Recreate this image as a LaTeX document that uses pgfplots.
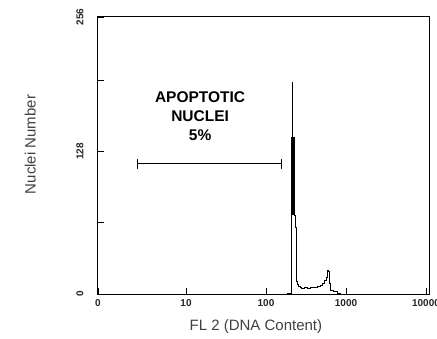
\documentclass[border=0pt]{standalone}
\usepackage{pgfplots}
\pgfplotsset{compat=1.18}
\usepackage{fontspec}
\setmainfont{Liberation Sans}
\begin{document}
\begin{tikzpicture}[x=1pt,y=1pt]
\path[use as bounding box] (0,0) rectangle (437,338);
\begin{axis}[
  at={(98pt,44pt)}, anchor=south west,
  scale only axis, width=331pt, height=277pt,
  xmode=log, xmin=0.794, xmax=10900,
  ymin=0, ymax=249,
  xtick={0.794,10,100,1000,10000},
  xticklabels={0,10,100,1000,10000},
  ytick={0,64,128,192,249}, yticklabels={0,,128,,256},
  xminorticks=false, yminorticks=false,
  xtick pos=bottom, ytick pos=left,
  tick align=inside, major tick length=6pt,
  tick style={black, line width=0.8pt},
  axis line style={line width=1pt},
  /pgf/number format/assume math mode=true,
  xticklabel style={font=\fontsize{10}{12}\selectfont\bfseries, text=black!85, anchor=center, yshift=-9pt},
  yticklabel style={font=\fontsize{10}{12}\selectfont\bfseries, text=black!85, xshift=-18pt, rotate=90, anchor=center},
  xlabel={FL 2 (DNA Content)},
  ylabel={Nuclei Number},
  every axis x label/.style={at={(axis description cs:0.477,-0.116)}, anchor=center, font=\fontsize{15}{17}\selectfont, text=black!75},
  every axis y label/.style={at={(axis description cs:-0.205,0.54)}, anchor=center, rotate=90, font=\fontsize{15}{17}\selectfont, text=black!75},
]
\addplot[const plot, black, line width=0.7pt] coordinates {
(180,0) (183,1) (205,2) (207,71) (209,70) (210,141) (210.5,72) (211,141) (211.5,72) (212,141) (212.5,190)
(213,72) (213.5,141) (214,72) (214.5,141) (215,72) (215.5,141) (216,72) (216.5,141)
(217,72) (217.5,141) (218,72) (218.5,141) (219,72) (219.5,141) (220,72) (220.5,141)
(221,72) (221.5,141) (222,72) (222.5,141) (223,72) (223.5,141) (224,72) (224.5,141)
(225,72) (225.5,141) (226,72) (226.5,141) (227,71) (230,71) (233,60) (236,30) (240,11) (246,9) (252,7)
(265,6) (280,5) (300,6) (330,5) (360,6) (400,6) (440,7) (480,8) (510,10)
(540,12) (565,15) (580,21) (600,20) (613,10) (631,3) (700,2) (780,1)
(850,0) (900,0)
};
\addplot[black, line width=0.9pt, mark=|, mark size=5pt, mark options={line width=0.9pt}] coordinates {(2.44,117) (154,117)};
\node[align=center, font=\fontsize{15.5}{19}\selectfont\bfseries] at (axis cs:15,160) {APOPTOTIC\\NUCLEI\\5\%};
\end{axis}
\end{tikzpicture}
\end{document}
